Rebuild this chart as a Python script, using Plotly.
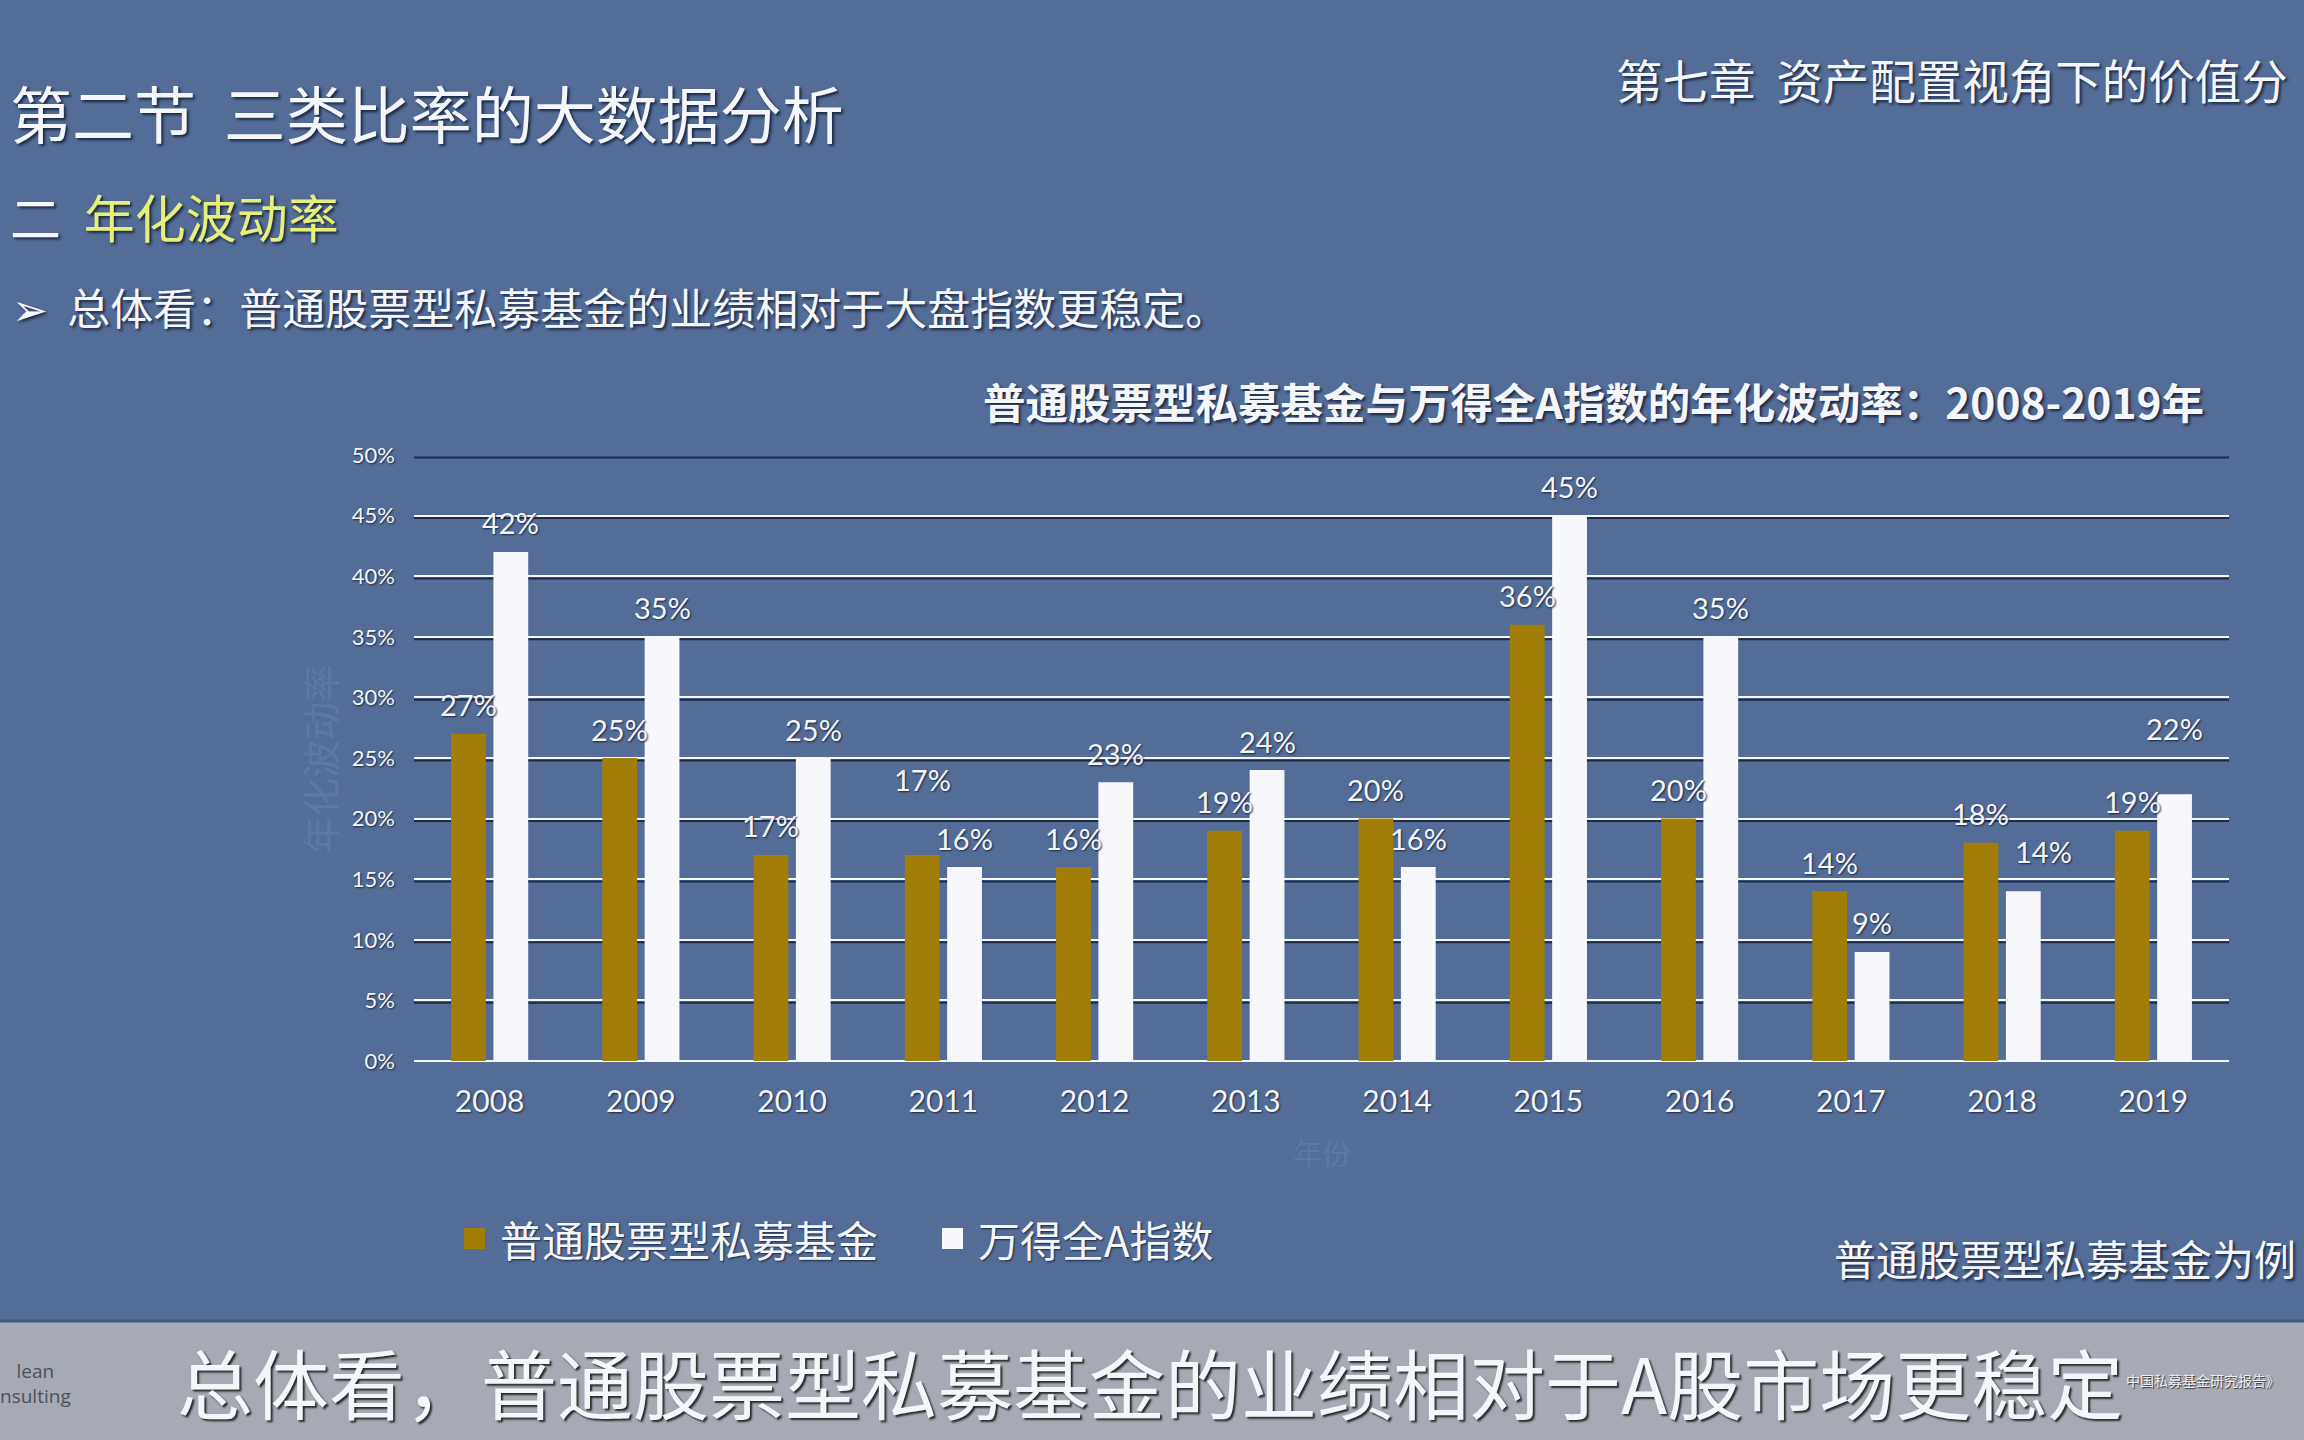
import plotly.graph_objects as go

# ---------------- data ----------------
years = [2008, 2009, 2010, 2011, 2012, 2013, 2014, 2015, 2016, 2017, 2018, 2019]
fund_vol = [27, 25, 17, 17, 16, 19, 20, 36, 20, 14, 18, 19]   # 普通股票型私募基金 (%)
wind_vol = [42, 35, 25, 16, 23, 24, 16, 45, 35, 9, 14, 22]    # 万得全A指数 (%)
series_names = ["普通股票型私募基金", "万得全A指数"]
y_ticks = [0, 5, 10, 15, 20, 25, 30, 35, 40, 45, 50]
y_tick_labels = [f"{v}%" for v in y_ticks]
year_labels = [str(y) for y in years]

# ---------------- style ----------------
W, H = 2304, 1440
L, R, T, B = 414, 2229, 455, 1061          # plot area in pixels
BG = "#536D98"
GOLD = "#A27E08"
WHITE_BAR = "#F7F8FC"
TXT = "#F4F6FA"
CJK = "Noto Sans CJK SC"
NUM = "Lato"
SHADOW_BIG = "2px 2px 3px #1a2540"
SHADOW_SM = "1px 1px 2px #1a2540"

BAR_W = 0.23
OFF_FUND, OFF_WIND = -0.255, 0.025
# label lift (px) and sideways nudge (px) overrides, default lift 29
label_nudge = {("fund", 2011): (0, 75), ("wind", 2018): (20, 40), ("wind", 2019): (0, 66)}


def px(x):
    return (x - L) / (R - L)


def py(y):
    return (B - y) / (B - T)


fig = go.Figure()
fig.add_trace(go.Bar(x=years, y=fund_vol, name=series_names[0], width=BAR_W, offset=OFF_FUND,
                     marker=dict(color=GOLD, line=dict(width=0)), hoverinfo="skip"))
fig.add_trace(go.Bar(x=years, y=wind_vol, name=series_names[1], width=BAR_W, offset=OFF_WIND,
                     marker=dict(color=WHITE_BAR, line=dict(width=0)), hoverinfo="skip"))

annotations = []
for key, vals, off in (("fund", fund_vol, OFF_FUND), ("wind", wind_vol, OFF_WIND)):
    for yr, v in zip(years, vals):
        dx, lift = label_nudge.get((key, yr), (0, 29))
        annotations.append(dict(
            x=yr + off + BAR_W / 2, y=v, xref="x", yref="y", text=f"{v}%",
            showarrow=False, xanchor="center", yanchor="middle", xshift=dx, yshift=lift,
            font=dict(family=NUM, size=29, color=TXT, shadow=SHADOW_SM)))


def txt(text, x, y, size, color=TXT, xanchor="left", family=CJK, weight="normal", shadow=SHADOW_BIG,
        textangle=0):
    annotations.append(dict(
        x=px(x), y=py(y), xref="paper", yref="paper", text=text, showarrow=False,
        xanchor=xanchor, yanchor="middle", textangle=textangle,
        font=dict(family=family, size=size, color=color, weight=weight, shadow=shadow)))


txt("第二节  三类比率的大数据分析", 8, 112, 62)
txt('二  <span style="color:#E6EF78">年化波动率</span>', 8, 216, 51)
txt("➢  总体看：普通股票型私募基金的业绩相对于大盘指数更稳定。", 10, 306, 43)
txt("第七章  资产配置视角下的价值分", 1614, 78, 46.5)
txt("普通股票型私募基金与万得全A指数的年化波动率：2008-2019年", 2206, 400, 42.5,
    xanchor="right", weight="bold")
txt("年化波动率", 318, 759, 38, color="#5E78A3", xanchor="center", shadow="none", textangle=-90)
txt("年份", 1322, 1152, 29, color="#5E78A3", xanchor="center", shadow="none")
txt("普通股票型私募基金为例", 1832, 1257, 42)
txt("总体看，普通股票型私募基金的业绩相对于A股市场更稳定", 1150, 1381, 76, xanchor="center",
    shadow="2px 2px 2px #2a2a2a")
txt("lean<br>nsulting", -2, 1383, 19, color="#4c515c", family="Open Sans", shadow="none")
txt("中国私募基金研究报告》", 2124, 1380, 14, color="#EEF0F4", shadow="1px 1px 1px #333")

# legend (drawn by hand so the swatches match the slide's size)
legend_items = [(series_names[0], GOLD, 464), (series_names[1], WHITE_BAR, 942)]
shapes = []
for name, col, x0 in legend_items:
    shapes.append(dict(type="rect", xref="paper", yref="paper", x0=px(x0), x1=px(x0 + 21),
                       y0=py(1249), y1=py(1228), fillcolor=col, line=dict(width=0)))
    txt(name, x0 + 34, 1238, 42, shadow=SHADOW_SM)

shapes += [
    dict(type="rect", xref="paper", yref="paper", x0=px(-5), x1=px(W + 5), y0=py(1322), y1=py(H + 5),
         fillcolor="#A6AAB4", line=dict(width=0), layer="below"),
    dict(type="line", xref="paper", yref="paper", x0=px(-5), x1=px(W + 5), y0=py(1321), y1=py(1321),
         line=dict(color="#3E5680", width=3), layer="below"),
]
for v in y_ticks:
    shapes.append(dict(type="line", xref="paper", yref="y", x0=0, x1=1, y0=v - 0.2, y1=v - 0.2,
                       line=dict(color="#1E2B48", width=2), layer="below"))

fig.update_layout(
    width=W, height=H,
    paper_bgcolor=BG, plot_bgcolor="rgba(0,0,0,0)",
    margin=dict(l=L, r=W - R, t=T, b=H - B, pad=0),
    barmode="overlay",
    showlegend=False,
    annotations=annotations,
    shapes=shapes,
    xaxis=dict(range=[2007.5, 2019.5], tickvals=years, ticktext=year_labels, showgrid=False,
               zeroline=False, showline=False, ticks="", ticklabelstandoff=20,
               tickfont=dict(family=NUM, size=30, color=TXT, shadow=SHADOW_SM), fixedrange=True),
    yaxis=dict(range=[0, 50], tickvals=y_ticks, ticktext=y_tick_labels, showgrid=True,
               gridcolor="#F4F6FA", gridwidth=2, zeroline=True, zerolinecolor="#F4F6FA",
               zerolinewidth=2, showline=False, ticks="", ticklabelstandoff=18,
               tickfont=dict(family=NUM, size=22, color=TXT, shadow=SHADOW_SM), fixedrange=True),
)

fig.write_html("out.html", config={"displayModeBar": False},
               post_script="document.body.style.margin='0';")
